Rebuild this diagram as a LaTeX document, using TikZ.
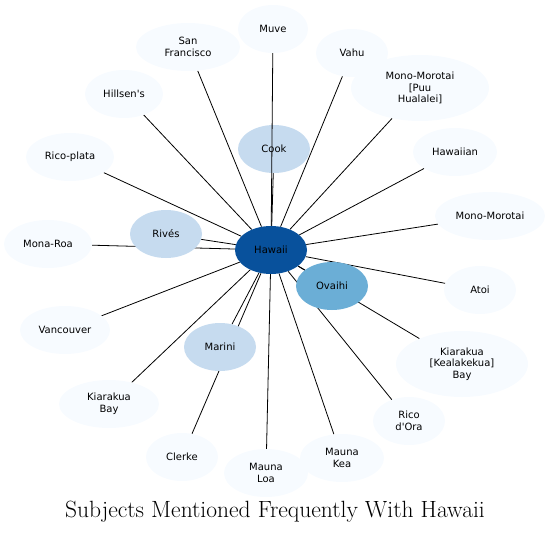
\documentclass[tikz,border=0pt]{standalone}
\usepackage{fontspec}
\setsansfont{DejaVu Sans}
\usetikzlibrary{shapes.geometric, backgrounds}

\definecolor{blueA}{HTML}{F7FBFF}
\definecolor{blueB}{HTML}{C6DBEF}
\definecolor{blueC}{HTML}{6BAED6}
\definecolor{blueD}{HTML}{08519C}

\begin{document}
\begin{tikzpicture}[x=1pt, y=-1pt]
        % Common Styles
        \tikzset{subject/.style={ellipse, inner sep=0pt, minimum width=72pt, minimum height=48pt, fill=blueA, align=center, font=\sffamily\fontsize{10}{11.7}\selectfont}}
        \tikzset{near/.style={subject, fill=blueB}}
        \tikzset{link/.style={black, line width=0.8pt}}

        \useasboundingbox (0, 0) rectangle (551, 533);

        % 1. Centre and close subjects
        \node[subject, fill=blueD] (hawaii) at (271, 250) {Hawaii};
        \node[subject, fill=blueC] (ovaihi) at (332, 286) {Ovaihi};
        \node[near] (cook) at (274, 149) {Cook};
        \node[near] (rives) at (166, 234) {Rivés};
        \node[near] (marini) at (220, 347) {Marini};

        % 2. Outer subjects
        \node[subject, minimum width=70pt] (muve) at (273, 29) {Muve};
        \node[subject, minimum width=104pt] (sanfran) at (188, 47) {San\\Francisco};
        \node[subject] (vahu) at (352, 53) {Vahu};
        \node[subject, minimum width=138pt, minimum height=66pt] (puu) at (420, 88) {Mono-Morotai\\{[Puu}\\Hualalei]};
        \node[subject, minimum width=78pt] (hillsen) at (124, 94) {Hillsen\textquotesingle s};
        \node[subject, minimum width=84pt] (hawaiian) at (455, 152) {Hawaiian};
        \node[subject, minimum width=88pt] (ricoplata) at (70, 157) {Rico-plata};
        \node[subject, minimum width=110pt] (monomorotai) at (490, 216) {Mono-Morotai};
        \node[subject, minimum width=88pt] (monaroa) at (48, 244) {Mona-Roa};
        \node[subject] (atoi) at (480, 290) {Atoi};
        \node[subject, minimum width=90pt] (vancouver) at (65, 330) {Vancouver};
        \node[subject, minimum width=132pt, minimum height=66pt] (kealakekua) at (462, 364) {Kiarakua\\{[Kealakekua]}\\Bay};
        \node[subject, minimum width=100pt] (kiarakua) at (109, 404) {Kiarakua\\Bay};
        \node[subject] (ricodora) at (409, 421) {Rico\\d\textquotesingle Ora};
        \node[subject] (clerke) at (182, 457) {Clerke};
        \node[subject, minimum width=84pt] (maunakea) at (342, 458) {Mauna\\Kea};
        \node[subject, minimum width=84pt] (maunaloa) at (266, 473) {Mauna\\Loa};

        % 3. Links
        \begin{scope}[on background layer]
            \foreach \s in {ovaihi, cook, rives, marini, sanfran, vahu, puu, hillsen, hawaiian, ricoplata, monomorotai, monaroa, atoi, vancouver, kealakekua, kiarakua, ricodora, clerke, maunakea, maunaloa}
                \draw[link] (hawaii) -- (\s);
        \end{scope}
        \draw[link] (hawaii) -- (muve);

        % 4. Title
        \node (title) at (275, 512) {\fontsize{23.5}{28}\selectfont Subjects Mentioned Frequently With Hawaii};
    \end{tikzpicture}
\end{document}
